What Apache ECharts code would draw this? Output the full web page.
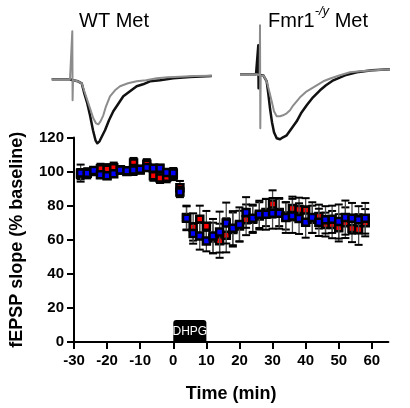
<!DOCTYPE html>
<html>
<head>
<meta charset="utf-8">
<script src="https://cdn.jsdelivr.net/npm/echarts@6/dist/echarts.min.js"></script>
<style>
html,body{margin:0;padding:0;background:#fff;}
#c{width:410px;height:408px;}
</style>
</head>
<body>
<div id="c"></div>
<script>
// ---------- DATA ----------
const times = [-28,-26,-24,-22,-20,-18,-16,-14,-12,-10,-8,-6,-4,-2,0,2,4,6,8,10,12,14,16,18,20,22,24,26,28,30,32,34,36,38,40,42,44,46,48,50,52,54,56,58];
const wtValues = [98.5,99,100,101.6,101.4,102.3,101,100,105,101,104.3,97.6,96.3,96.7,98,90.5,73,67.5,72,67.9,61,59.4,62.6,66,68,71.7,72,74,76,81,76,74,78.3,77.7,77.4,72,73.6,68.9,68.9,67,70,66.6,66,70];
const wtErrors = [3,2,2,3,3,3,2,2,3,2,3,3,3,3,3,4,7,8,8,9,9,10,10,10,9,9,8,8,8,8,8,8,7,7,7,8,7,7,8,8,9,8,9,8];
const koValues = [99.1,99,100.7,98.2,97.6,98.8,101,100.5,101,101.4,102.4,102,102,99.5,99.1,88,72.6,63.7,62.2,59.2,62.2,64.5,69.8,66.8,69,76,72.6,74.9,74.9,75.5,75.5,73,74,72.4,70.2,73,70.2,71.7,72,70.7,73,72.6,71.7,72.6];
const koErrors = [5,3,2,2,2,2,2,2,3,2,2,2,2,2,3,3,7,6,8,6,10,12,12,10,10,9,8,8,9,9,9,9,10,9,9,9,8,8,8,10,10,9,8,9];
const xTicks = [-30,-20,-10,0,10,20,30,40,50,60];
const yTicks = [0,20,40,60,80,100,120];
const baselineValue = 100;
const dhpgStart = 0, dhpgEnd = 10;

// example fEPSP traces: [time (ms), amplitude (mV)]
const wtGrayTrace = [[0.17,0],[2.0,0],[2.2,0],[2.23,0.48],[2.26,-0.21],[2.3,-0.01],[2.5,-0.01],[2.8,-0.02],[3.17,-0.04],[3.4,-0.11],[3.67,-0.19],[4.0,-0.29],[4.33,-0.39],[4.6,-0.44],[4.83,-0.45],[5.05,-0.42],[5.33,-0.36],[5.6,-0.27],[6.0,-0.17],[6.5,-0.11],[7.0,-0.07],[7.8,-0.04],[8.67,-0.02],[9.6,-0.01],[10.67,0.01],[11.8,0.02],[13.0,0.026],[14.5,0.033],[16.17,0.036]];
const wtBlackTrace = [[0.17,0],[2.0,0],[2.3,-0.01],[2.5,-0.01],[2.8,-0.02],[3.17,-0.04],[3.4,-0.13],[3.7,-0.23],[4.0,-0.36],[4.3,-0.51],[4.55,-0.61],[4.73,-0.64],[4.95,-0.62],[5.2,-0.57],[5.5,-0.51],[5.9,-0.41],[6.33,-0.32],[6.8,-0.25],[7.33,-0.17],[8.0,-0.12],[8.67,-0.07],[9.3,-0.05],[10.0,-0.02],[11.0,-0.01],[12.33,0.01],[14.0,0.023],[16.17,0.033]];
const koGrayTrace = [[0.2,0],[1.4,0],[1.9,0],[2.17,-0.01],[2.2,0.49],[2.23,-0.54],[2.27,-0.02],[2.53,-0.01],[2.87,-0.07],[3.1,-0.16],[3.37,-0.27],[3.6,-0.37],[3.87,-0.42],[4.2,-0.42],[4.5,-0.41],[4.87,-0.39],[5.2,-0.36],[5.53,-0.31],[6.2,-0.23],[6.87,-0.17],[7.7,-0.12],[8.53,-0.07],[9.3,-0.04],[10.2,-0.01],[11.2,0.02],[12.2,0.03],[13.7,0.04],[15.2,0.05]];
const koBlackTrace = [[0.2,0],[1.8,0],[2.0,0],[2.03,0.29],[2.06,-0.14],[2.1,-0.01],[2.53,-0.01],[2.87,-0.07],[3.05,-0.21],[3.2,-0.34],[3.4,-0.48],[3.6,-0.58],[3.87,-0.64],[4.2,-0.65],[4.5,-0.63],[4.87,-0.61],[5.3,-0.55],[5.87,-0.47],[6.3,-0.39],[6.87,-0.31],[7.5,-0.23],[8.2,-0.16],[8.8,-0.11],[9.53,-0.06],[10.7,-0.01],[11.87,0.02],[13.4,0.04],[15.2,0.05]];

// ---------- CHART ----------
const FONT = '"Liberation Sans", Arial, sans-serif';
const chart = echarts.init(document.getElementById('c'), null, {renderer:'canvas'});

function zip(vals, errs){ return times.map((t,i)=>[t, vals[i], errs[i]]); }

function errRender(params, api){
  const x = api.value(0), y = api.value(1), e = api.value(2);
  const top = api.coord([x, y + e]), bot = api.coord([x, y - e]);
  const hw = 4;
  return {type:'group', children:[
    {type:'line', shape:{x1:top[0],y1:top[1],x2:bot[0],y2:bot[1]}, style:{stroke:'#4a4a4a', lineWidth:1.3}},
    {type:'line', shape:{x1:top[0]-hw,y1:top[1],x2:top[0]+hw,y2:top[1]}, style:{stroke:'#000', lineWidth:2}},
    {type:'line', shape:{x1:bot[0]-hw,y1:bot[1],x2:bot[0]+hw,y2:bot[1]}, style:{stroke:'#000', lineWidth:2}}
  ]};
}

function dhpgRender(params, api){
  const p0 = api.coord([api.value(0), 0]);
  const p1 = api.coord([api.value(1), 0]);
  const h = 22;
  return {type:'group', children:[
    {type:'rect', shape:{x:p0[0], y:p0[1]-h, width:p1[0]-p0[0], height:h, r:[3,3,0,0]}, style:{fill:'#000'}},
    {type:'text', style:{x:(p0[0]+p1[0])/2, y:p0[1]-h/2+1, text:'DHPG', fill:'#fff', font:'12px '+FONT, align:'center', verticalAlign:'middle'}}
  ]};
}

const axisTextStyle = {color:'#000', fontFamily:FONT, fontWeight:'bold', fontSize:15};

const option = {
  animation:false,
  backgroundColor:'#fff',
  grid:[
    {left:70.7, right:21.6, top:137.5, bottom:58.5, containLabel:false},
    {left:50, top:24.3, width:165, height:125},
    {left:238, top:19.3, width:165, height:125}
  ],
  xAxis:[
    {type:'value', gridIndex:0, min:-30, max:65, interval:10,
     axisLine:{show:true, onZero:false, lineStyle:{color:'#000', width:2}},
     axisTick:{show:true, length:7, lineStyle:{color:'#000', width:2}, customValues:xTicks},
     axisLabel:Object.assign({margin:11, customValues:xTicks}, axisTextStyle),
     splitLine:{show:false},
     name:'Time (min)', nameLocation:'middle', nameGap:43,
     nameTextStyle:{color:'#000', fontFamily:FONT, fontWeight:'bold', fontSize:18}},
    {type:'value', gridIndex:1, min:0, max:16.5, show:false},
    {type:'value', gridIndex:2, min:0, max:16.5, show:false}
  ],
  yAxis:[
    {type:'value', gridIndex:0, min:0, max:120, interval:20,
     axisLine:{show:true, onZero:false, lineStyle:{color:'#000', width:2}},
     axisTick:{show:true, length:7, lineStyle:{color:'#000', width:2}, customValues:yTicks},
     axisLabel:Object.assign({margin:10, customValues:yTicks}, axisTextStyle),
     splitLine:{show:false},
     name:'fEPSP slope (% baseline)', nameLocation:'middle', nameGap:48, nameRotate:90,
     nameTextStyle:{color:'#000', fontFamily:FONT, fontWeight:'bold', fontSize:18}},
    {type:'value', gridIndex:1, min:-0.7, max:0.55, show:false},
    {type:'value', gridIndex:2, min:-0.7, max:0.55, show:false}
  ],
  graphic:[
    {type:'text', left:79, top:11, style:{text:'WT Met', font:'20px '+FONT, fill:'#000'}},
    {type:'text', left:268, top:5, style:{
      text:'{a|Fmr1}{s|-/y}{a| Met}',
      rich:{a:{font:'20px '+FONT, fill:'#000', verticalAlign:'bottom', height:24},
            s:{font:'italic 13px '+FONT, fill:'#000', verticalAlign:'top', height:24, padding:[0,0,10,0]}}
    }}
  ],
  series:[
    {type:'line', xAxisIndex:1, yAxisIndex:1, data:wtBlackTrace, showSymbol:false, silent:true,
     lineStyle:{color:'#111', width:2.5, join:'round'}},
    {type:'line', xAxisIndex:1, yAxisIndex:1, data:wtGrayTrace, showSymbol:false, silent:true,
     lineStyle:{color:'#8c8c8c', width:2, join:'round'}},
    {type:'line', xAxisIndex:2, yAxisIndex:2, data:koBlackTrace, showSymbol:false, silent:true,
     lineStyle:{color:'#111', width:2.5, join:'round'}},
    {type:'line', xAxisIndex:2, yAxisIndex:2, data:koGrayTrace, showSymbol:false, silent:true,
     lineStyle:{color:'#8c8c8c', width:2, join:'round'}},
    {type:'custom', xAxisIndex:0, yAxisIndex:0, data:[[dhpgStart, dhpgEnd]], renderItem:dhpgRender,
     encode:{x:[0,1]}, silent:true, clip:false, z:1},
    {type:'line', xAxisIndex:0, yAxisIndex:0, data:[], silent:true,
     markLine:{symbol:'none', silent:true, label:{show:false},
       lineStyle:{color:'#555', width:1.5, type:[4,2.5]},
       data:[[{coord:[-30, baselineValue]},{coord:[69.5, baselineValue]}]]}, z:1},
    {type:'custom', xAxisIndex:0, yAxisIndex:0, data:zip(wtValues, wtErrors), renderItem:errRender,
     encode:{x:0, y:1}, silent:true, z:2},
    {type:'scatter', xAxisIndex:0, yAxisIndex:0, data:zip(wtValues, wtErrors).map(d=>[d[0],d[1]]),
     symbol:'rect', symbolSize:7, itemStyle:{color:'#ff0000', borderColor:'#000', borderWidth:2.5, opacity:1}, z:3},
    {type:'custom', xAxisIndex:0, yAxisIndex:0, data:zip(koValues, koErrors), renderItem:errRender,
     encode:{x:0, y:1}, silent:true, z:4},
    {type:'scatter', xAxisIndex:0, yAxisIndex:0, data:zip(koValues, koErrors).map(d=>[d[0],d[1]]),
     symbol:'rect', symbolSize:7, itemStyle:{color:'#0000ff', borderColor:'#000', borderWidth:2.5, opacity:1}, z:5}
  ]
};
chart.setOption(option);
</script>
</body>
</html>
